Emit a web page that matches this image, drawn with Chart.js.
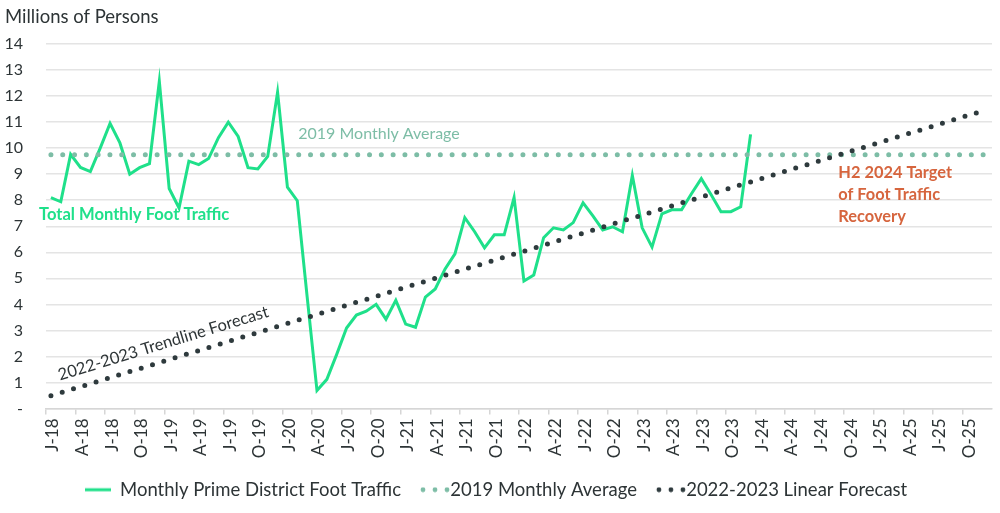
<!DOCTYPE html>
<html>
<head>
<meta charset="utf-8">
<script src="https://cdn.jsdelivr.net/npm/chart.js@4.4.0/dist/chart.umd.min.js"></script>
<style>
  html, body { margin: 0; padding: 0; background: #fff; }
  #wrap { width: 1000px; height: 513px; position: relative; }
</style>
</head>
<body>
<div id="wrap"><canvas id="footChart"></canvas></div>
<script>
// months Jan-18 .. Dec-25
const monthNames = ['Jan', 'Feb', 'Mar', 'Apr', 'May', 'Jun', 'Jul', 'Aug', 'Sep', 'Oct', 'Nov', 'Dec'];
const yearCodes = ['18', '19', '20', '21', '22', '23', '24', '25'];
const monthLabels = yearCodes.flatMap(yy => monthNames.map(m => m + '-' + yy));

// Monthly Prime District Foot Traffic, millions (Jan-18 .. Dec-23)
const footTraffic = [
    8.10, 7.94, 9.76, 9.26, 9.10, 10.00, 10.95, 10.20, 9.00, 9.25, 9.40, 12.57,
    8.45, 7.70, 9.50, 9.37, 9.60, 10.40, 11.00, 10.45, 9.25, 9.20, 9.68, 12.15,
    8.50, 7.98, 4.30, 0.69, 1.12, 2.08, 3.09, 3.59, 3.74, 4.00, 3.43, 4.16,
    3.24, 3.12, 4.28, 4.59, 5.36, 5.94, 7.33, 6.79, 6.17, 6.67, 6.67, 8.10,
    4.90, 5.13, 6.56, 6.94, 6.86, 7.14, 7.90, 7.40, 6.86, 6.98, 6.79, 8.95,
    6.94, 6.20, 7.48, 7.63, 7.63, 8.25, 8.83, 8.21, 7.56, 7.56, 7.75, 10.53
];

// 2019 monthly average, flat across the whole axis
const avg2019Months = ['Jan-18', 'Dec-25'];
const avg2019Values = [9.75, 9.75];

// 2022-2023 linear forecast, start and end of the trendline
const forecastMonths = ['Jan-18', 'Dec-25'];
const forecastValues = [0.49, 11.48];

const yTicks = [0, 1, 2, 3, 4, 5, 6, 7, 8, 9, 10, 11, 12, 13, 14];

const GREEN = '#1fe08a';
const AVG_COLOR = '#7dbda6';
const DARK = '#2e3a3d';
const TEXT = '#2d3436';
const ORANGE = '#d6653e';

Chart.defaults.font.family = 'Lato, "Open Sans", sans-serif';
Chart.defaults.color = TEXT;

function makeLegendMark(color, dotted) {
    const c = document.createElement('canvas');
    c.width = dotted ? 46 : 26;
    c.height = 6;
    const g = c.getContext('2d');
    g.fillStyle = color;
    if (dotted) {
        [18, 30, 42].forEach(cx => {
            g.beginPath();
            g.arc(cx, 3, 2.4, 0, Math.PI * 2);
            g.fill();
        });
    } else {
        g.fillRect(0, 1.5, 26, 3);
    }
    return c;
}

const legendMarks = [
    makeLegendMark(GREEN, false),
    makeLegendMark(AVG_COLOR, true),
    makeLegendMark(DARK, true)
];

const annotationsPlugin = {
    id: 'chartNotes',
    afterDraw(chart) {
        const ctx = chart.ctx;
        const x = chart.scales.x;
        const y = chart.scales.y;
        ctx.save();
        ctx.textBaseline = 'middle';

        // axis title
        ctx.fillStyle = TEXT;
        ctx.font = '18.5px Lato';
        ctx.textAlign = 'left';
        ctx.fillText('Millions of Persons', 5, y.getPixelForValue(14) - 27);

        // 2019 average note
        ctx.fillStyle = AVG_COLOR;
        ctx.font = '16px Lato';
        ctx.fillText('2019 Monthly Average', x.getPixelForValue(25) + 1, y.getPixelForValue(10.55));

        // traffic note
        ctx.fillStyle = GREEN;
        ctx.font = 'bold 16.6px Lato';
        ctx.fillText('Total Monthly Foot Traffic', x.getPixelForValue(0) - 12, y.getPixelForValue(7.44));

        // recovery target
        ctx.fillStyle = ORANGE;
        ctx.font = 'bold 16.4px Lato';
        const tx = x.getPixelForValue(80) - 1;
        const ty = y.getPixelForValue(9.05);
        ['H2 2024 Target', 'of Foot Traffic', 'Recovery'].forEach((line, i) => {
            ctx.fillText(line, tx, ty + i * 22);
        });

        // trendline label, rotated along the forecast line
        const x0 = x.getPixelForValue(0), y0 = y.getPixelForValue(forecastValues[0]);
        const x1 = x.getPixelForValue(95), y1 = y.getPixelForValue(forecastValues[1]);
        const angle = Math.atan2(y1 - y0, x1 - x0);
        ctx.translate(x.getPixelForValue(11.4), y.getPixelForValue(2.5));
        ctx.rotate(angle);
        ctx.fillStyle = TEXT;
        ctx.font = '16.5px Lato';
        ctx.textAlign = 'center';
        ctx.fillText('2022-2023 Trendline Forecast', 0, 0);

        ctx.restore();
    }
};

const chartElement = document.getElementById('footChart').getContext('2d');

new Chart(chartElement, {
    type: 'line',
    data: {
        labels: monthLabels,
        datasets: [
            {
                label: 'Monthly Prime District Foot Traffic',
                data: footTraffic,
                borderColor: GREEN,
                backgroundColor: GREEN,
                borderWidth: 3,
                pointRadius: 0,
                tension: 0,
                order: 3
            },
            {
                label: '2019 Monthly Average',
                data: avg2019Months.map((m, i) => ({ x: m, y: avg2019Values[i] })),
                borderColor: AVG_COLOR,
                backgroundColor: AVG_COLOR,
                borderWidth: 5,
                borderDash: [0, 11.8],
                borderCapStyle: 'round',
                pointRadius: 0,
                order: 2
            },
            {
                label: '2022-2023 Linear Forecast',
                data: forecastMonths.map((m, i) => ({ x: m, y: forecastValues[i] })),
                borderColor: DARK,
                backgroundColor: DARK,
                borderWidth: 5,
                borderDash: [0, 11.8],
                borderCapStyle: 'round',
                pointRadius: 0,
                order: 1
            }
        ]
    },
    options: {
        responsive: true,
        maintainAspectRatio: false,
        animation: false,
        layout: {
            padding: { top: 44, right: 8, left: 0, bottom: 4 }
        },
        plugins: {
            legend: {
                position: 'bottom',
                labels: {
                    usePointStyle: true,
                    pointStyleWidth: 26,
                    padding: 14,
                    color: TEXT,
                    font: { size: 18.5 },
                    generateLabels: function(chart) {
                        const items = Chart.defaults.plugins.legend.labels.generateLabels(chart);
                        items.sort((a, b) => a.datasetIndex - b.datasetIndex);
                        items.forEach(item => { item.pointStyle = legendMarks[item.datasetIndex]; });
                        return items;
                    }
                }
            },
            tooltip: { enabled: false }
        },
        scales: {
            x: {
                type: 'category',
                offset: true,
                afterFit: function(scale) {
                    scale.height = 58;
                    scale.paddingRight = 0;
                    scale.paddingLeft = 0;
                },
                grid: {
                    display: true,
                    offset: true,
                    drawOnChartArea: false,
                    drawTicks: true,
                    tickLength: 6,
                    lineWidth: 1.5,
                    color: ctx => ctx.index % 3 === 0 ? '#d6d6d6' : 'rgba(0,0,0,0)'
                },
                border: { display: true, color: '#d6d6d6', width: 1.5 },
                ticks: {
                    autoSkip: false,
                    maxRotation: 90,
                    minRotation: 90,
                    padding: 4,
                    labelOffset: 2,
                    color: TEXT,
                    font: { size: 17 },
                    callback: function(value, index) {
                        if (index % 3 !== 0) return '';
                        const lbl = this.getLabelForValue(value);
                        return lbl.charAt(0) + lbl.slice(3);
                    }
                }
            },
            y: {
                min: 0,
                max: 14,
                afterFit: function(scale) { scale.width = 46; },
                afterBuildTicks: function(scale) {
                    scale.ticks = yTicks.map(v => ({ value: v }));
                },
                grid: {
                    color: '#e4e4e4',
                    lineWidth: 1.5,
                    drawTicks: false
                },
                border: { display: false },
                ticks: {
                    padding: 23,
                    color: TEXT,
                    font: { size: 16 },
                    callback: v => v === 0 ? '-' : String(v)
                }
            }
        }
    },
    plugins: [annotationsPlugin]
});
</script>
</body>
</html>
